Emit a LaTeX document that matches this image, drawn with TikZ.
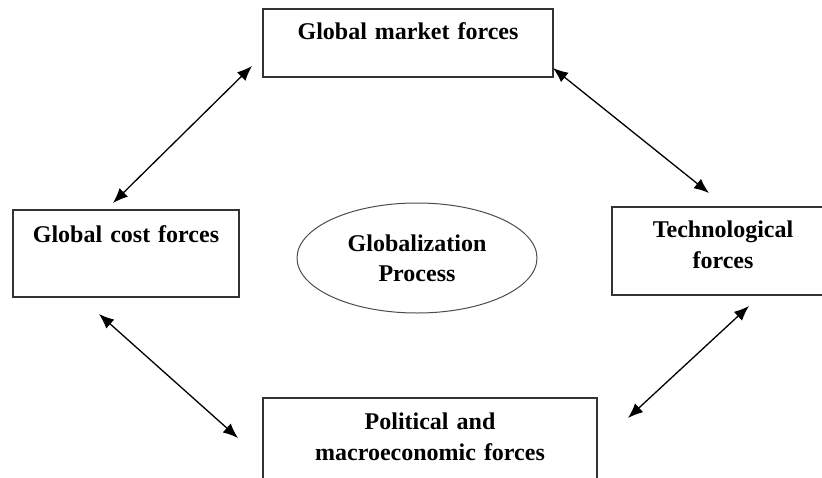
\documentclass[tikz,border=0pt]{standalone}
\usepackage{fontspec}
\setmainfont{Liberation Serif}
\usepackage{tikz}
\usetikzlibrary{shapes.geometric, arrows.meta}
\tikzstyle{force}=[draw=black!80, line width=0.6pt, inner sep=0pt, align=center, font=\fontsize{12}{15.5}\selectfont\bfseries]
\tikzstyle{process}=[ellipse, draw=black!70, line width=0.5pt, inner sep=0pt, align=center, minimum width=120pt, minimum height=55pt, font=\fontsize{12}{15}\selectfont\bfseries]
\tikzstyle{link}=[{Latex[length=7.5pt,width=6pt]}-{Latex[length=7.5pt,width=6pt]}, line width=0.65pt]

\begin{document}
\begin{tikzpicture}[x=0.5pt, y=0.5pt]
        \useasboundingbox (0,0) rectangle (822,477);
        % Global market forces
        \node[force, text width=145pt, text height=15.5pt, text depth=18.5pt] (market) at (408,434) {Global market forces};
        % Global cost forces
        \node[force, text width=113pt, text height=16pt, text depth=27.5pt] (cost) at (126,223.5) {Global cost forces};
        % Technological forces
        \node[force, text width=111pt, text height=15pt, text depth=29pt] (tech) at (723,226) {Technological\\forces};
        % Political and macroeconomic forces
        \node[force, text width=167pt, text height=15.5pt, text depth=30.5pt] (politic) at (430,33) {Political and\\macroeconomic forces};

        % Globalization Process
        \node[process] (glob) at (417,219) {Globalization\\Process};

        % arrow ends
        \coordinate (m1) at (252,411);
        \coordinate (c1) at (113,274);
        \coordinate (m2) at (553,409);
        \coordinate (t1) at (709,284);
        \coordinate (c2) at (99,163);
        \coordinate (p1) at (238,39);
        \coordinate (t2) at (749,171);
        \coordinate (p2) at (628,59);
        \draw[link] (m1) -- (c1);
        \draw[link] (m2) -- (t1);
        \draw[link] (c2) -- (p1);
        \draw[link] (t2) -- (p2);
    \end{tikzpicture}
\end{document}
